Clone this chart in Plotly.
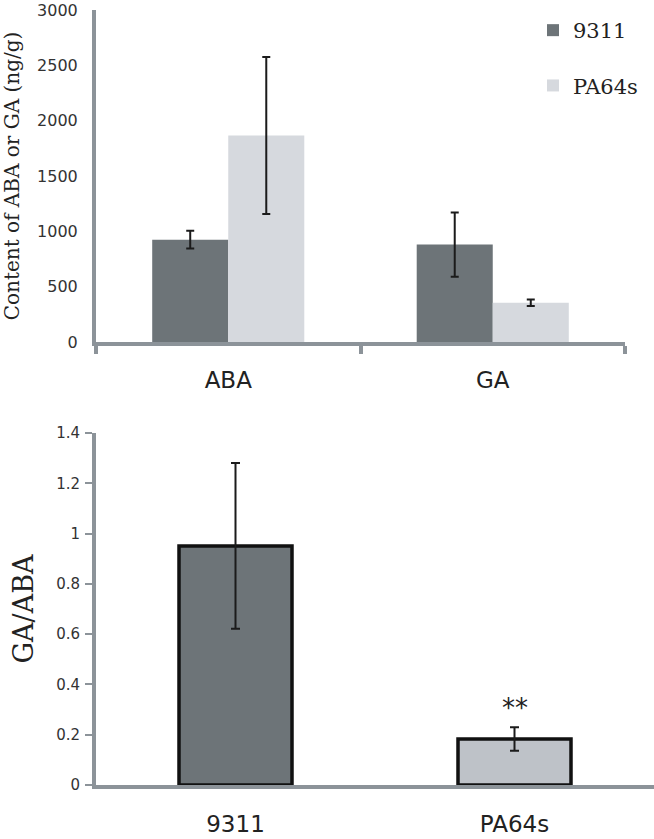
import plotly.graph_objects as go

# top panel: hormone content
hormones = ["ABA", "GA"]
content_9311 = [925, 880]
err_9311 = [80, 290]
content_pa64s = [1866, 355]
err_pa64s = [710, 30]

# bottom panel: GA/ABA ratio
lines = ["9311", "PA64s"]
ratio = [0.951, 0.183]
ratio_err = [0.33, 0.047]

W, H = 654, 839
axis_grey = "#8c9399"
dark = "#6d7478"
light_top = "#d6d9de"
light_bot = "#bec2c8"
ink = "#1b1b1b"
sans = "DejaVu Sans"
serif = "DejaVu Serif"

def px_x(p):
    return p / W

def px_y(p):
    return (H - p) / H

fig = go.Figure()

fig.add_trace(go.Bar(
    x=hormones, y=content_9311, name="9311",
    marker=dict(color=dark, line=dict(width=0)),
    error_y=dict(type="data", array=err_9311, color=ink, thickness=2, width=4),
    xaxis="x", yaxis="y", legendgroup="a",
))
fig.add_trace(go.Bar(
    x=hormones, y=content_pa64s, name="PA64s",
    marker=dict(color=light_top, line=dict(width=0)),
    error_y=dict(type="data", array=err_pa64s, color=ink, thickness=2, width=4),
    xaxis="x", yaxis="y", legendgroup="b",
))

fig.add_trace(go.Bar(
    x=lines, y=ratio, showlegend=False,
    marker=dict(color=[dark, light_bot], line=dict(color="#111111", width=3.5)),
    error_y=dict(type="data", array=ratio_err, color=ink, thickness=2, width=4.5),
    xaxis="x2", yaxis="y2", width=0.405,
))

# significance mark above PA64s
fig.add_annotation(
    x=lines[1], y=ratio[1] + ratio_err[1] + 0.075, xref="x2", yref="y2",
    text="**", showarrow=False, yanchor="middle",
    font=dict(family=sans, size=26, color="#222222"),
)

fig.update_layout(
    width=W, height=H,
    margin=dict(l=0, r=0, t=0, b=0, autoexpand=False),
    paper_bgcolor="white", plot_bgcolor="white",
    barmode="group", bargap=0.425, bargroupgap=0,
    legend=dict(
        x=px_x(533), y=px_y(10), xanchor="left", yanchor="top",
        font=dict(family=serif, size=21, color="#222222"),
        tracegroupgap=25, bgcolor="rgba(0,0,0,0)",
    ),
    xaxis=dict(
        domain=[px_x(96), px_x(625)], anchor="y", automargin=False,
        showline=True, linewidth=4, linecolor=axis_grey,
        ticks="outside", tickson="boundaries", ticklen=8, tickwidth=4, tickcolor=axis_grey,
        ticklabelstandoff=14,
        tickfont=dict(family=sans, size=23, color="#222222"),
        showgrid=False, zeroline=False,
    ),
    yaxis=dict(
        domain=[px_y(342), px_y(10)], anchor="x", automargin=False,
        range=[0, 3000], dtick=500, tickformat="d",
        showline=True, linewidth=4, linecolor=axis_grey,
        ticks="", ticklabelstandoff=11,
        tickfont=dict(family=sans, size=16, color="#333333"),
        showgrid=False, zeroline=False,
        title=dict(text="Content of ABA or GA (ng/g)", standoff=13,
                   font=dict(family=serif, size=20, color="#222222")),
    ),
    xaxis2=dict(
        domain=[px_x(96), 1.0], anchor="y2", automargin=False,
        showline=True, linewidth=4, linecolor=axis_grey,
        ticks="", ticklabelstandoff=15,
        tickfont=dict(family=sans, size=23, color="#222222"),
        showgrid=False, zeroline=False,
    ),
    yaxis2=dict(
        domain=[px_y(785), px_y(433)], anchor="x2", automargin=False,
        range=[0, 1.4], dtick=0.2,
        showline=True, linewidth=4, linecolor=axis_grey,
        ticks="outside", ticklen=7, tickwidth=2, tickcolor=axis_grey,
        ticklabelstandoff=2,
        tickfont=dict(family=sans, size=15, color="#333333"),
        showgrid=False, zeroline=False,
        title=dict(text="GA/ABA", standoff=16,
                   font=dict(family=serif, size=27, color="#222222")),
    ),
)

fig.write_html("out.html", config={"displayModeBar": False},
               post_script="document.body.style.margin='0';")
